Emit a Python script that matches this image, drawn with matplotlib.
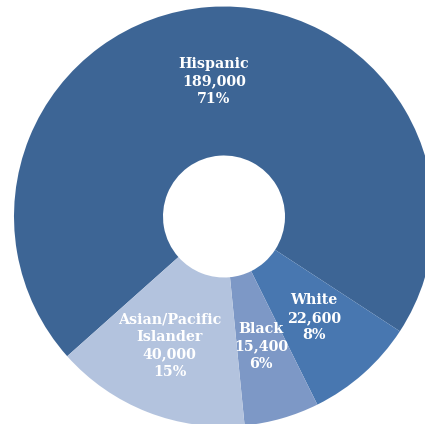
import numpy as np
import matplotlib
matplotlib.use('Agg')
import matplotlib.pyplot as plt

groups = ['Hispanic', 'White', 'Black', 'Asian/Pacific\nIslander']
counts = [189000, 22600, 15400, 40000]
shares = ['71%', '8%', '6%', '15%']
colors = ['#3d6595', '#4877b0', '#7d98c6', '#b3c3de']

W, H = 425, 424
fig = plt.figure(figsize=(W / 100, H / 100), dpi=100)
fig.patch.set_facecolor('white')
ax = fig.add_axes([0, 0, 1, 1])

labels = [f'{g}\n{c:,}\n{s}' for g, c, s in zip(groups, counts, shares)]

wedges, texts = ax.pie(counts, colors=colors, labels=labels,
                       center=(224, H - 216.5), radius=210,
                       startangle=221.7, counterclock=False,
                       labeldistance=0.645,
                       wedgeprops=dict(width=149, linewidth=0),
                       textprops=dict(color='white', fontsize=10.3,
                                      fontweight='bold', family='DejaVu Serif'),
                       frame=True)
for t in texts:
    t.set_ha('center')
    t.set_va('center')
    t.set_linespacing(1.32)
# asian label sits a little further out and left in the original
x, y = texts[3].get_position()
texts[3].set_position((x - 5, y - 3))

ax.set_xlim(0, W)
ax.set_ylim(0, H)
ax.axis('off')

plt.savefig('out.png', dpi=100)
plt.close()
